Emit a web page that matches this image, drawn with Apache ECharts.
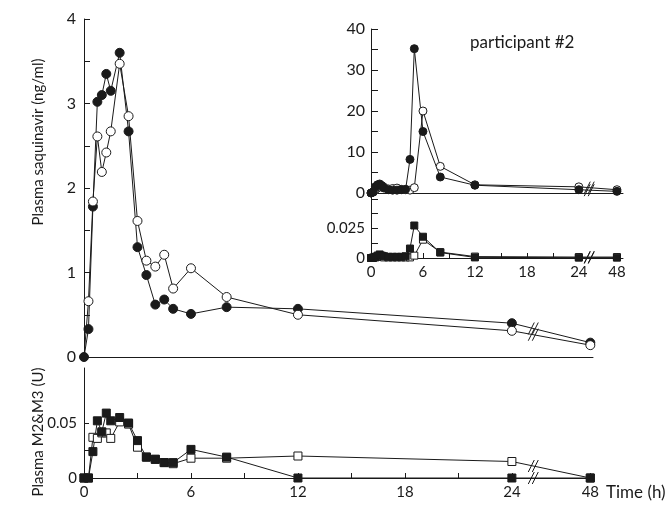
<!DOCTYPE html>
<html>
<head>
<meta charset="utf-8">
<script src="https://cdn.jsdelivr.net/npm/echarts@6/dist/echarts.min.js"></script>
<style>
html, body { margin: 0; padding: 0; background: #fff; }
#chart { width: 669px; height: 513px; }
</style>
</head>
<body>
<div id="chart"></div>
<script>
// sampling times (h)
var times = [0, 0.25, 0.5, 0.75, 1, 1.25, 1.5, 2, 2.5, 3, 3.5, 4, 4.5, 5, 6, 8, 12, 24, 48];

// plasma saquinavir (ng/ml), mean curves
var saqFilled = [0, 0.33, 1.78, 3.02, 3.1, 3.35, 3.15, 3.6, 2.67, 1.3, 0.97, 0.62, 0.68, 0.57, 0.51, 0.59, 0.57, 0.40, 0.17];
var saqOpen = [0, 0.66, 1.84, 2.61, 2.19, 2.42, 2.67, 3.47, 2.85, 1.61, 1.14, 1.07, 1.21, 0.81, 1.05, 0.71, 0.50, 0.31, 0.14];

// plasma M2&M3 (U)
var metFilled = [0, 0, 0.024, 0.052, 0.042, 0.059, 0.052, 0.055, 0.050, 0.034, 0.019, 0.017, 0.014, 0.014, 0.026, 0.019, 0, 0, 0];
var metOpen = [0, 0, 0.037, 0.036, 0.041, 0.041, 0.036, 0.051, 0.049, 0.028, 0.019, 0.017, 0.014, 0.013, 0.018, 0.018, 0.020, 0.015, 0];

// participant #2 (inset)
var p2SaqFilled = [0, 0.3, 1.5, 2.0, 2.2, 1.8, 1.2, 0.8, 0.7, 0.7, 0.8, 0.9, 8.2, 35.2, 15.0, 3.9, 1.9, 0.8, 0.4];
var p2SaqOpen = [0, 0.2, 0.8, 1.2, 1.5, 1.6, 1.4, 1.0, 1.1, 1.2, 0.9, 0.8, 0.7, 1.3, 20.0, 6.5, 2.0, 1.5, 0.8];
var p2MetFilled = [0, 0.0005, 0.001, 0.002, 0.003, 0.002, 0.0015, 0.001, 0.001, 0.001, 0.001, 0.0015, 0.008, 0.0275, 0.018, 0.0046, 0.0005, 0.0003, 0.0003];
var p2MetOpen = [0, 0, 0.0005, 0.001, 0.001, 0.001, 0.0005, 0.0005, 0.0005, 0.0005, 0.0005, 0.0005, 0.0005, 0.002, 0.0155, 0.005, 0.0012, 0.0008, 0.0008];

var xTickLabels = [0, 6, 12, 18, 24, 48];

// broken time axis: 24..48 h squeezed
function brk(t) { return t <= 24 ? t : 24 + (t - 24) * 4.4 / 24; }
function pairs(ts, vs, hideFirst) {
    var out = [];
    for (var i = 0; i < ts.length; i++) {
        var pt = [brk(ts[i]), vs[i]];
        // the first open symbol sits under the filled one in the original
        out.push(hideFirst && i === 0 ? { value: pt, symbol: 'none' } : pt);
    }
    return out;
}

var ink = '#1a1a1a';
var font = 'Lato';
var lbl = { color: ink, fontFamily: font, fontSize: 15 };

var labelVals = xTickLabels.map(brk);
var tickVals = [0, 3, 6, 9, 12, 15, 18, 21, 24, brk(48)];
function timeFmt(v) {
    for (var i = 0; i < labelVals.length; i++) {
        if (Math.abs(labelVals[i] - v) < 1e-6) return String(xTickLabels[i]);
    }
    return '';
}

function xAx(grid, max, withLabels) {
    return {
        gridIndex: grid, type: 'value', min: 0, max: max,
        axisLine: { show: true, lineStyle: { color: ink, width: 1 } },
        axisTick: withLabels ? { show: true, inside: true, length: 5, customValues: tickVals, lineStyle: { color: ink } } : { show: false },
        axisLabel: withLabels ? Object.assign({ show: true, margin: 7, customValues: labelVals, formatter: timeFmt }, lbl) : { show: false },
        splitLine: { show: false }
    };
}

function lineSeries(x, data, symbol, size, filled) {
    return {
        type: 'line', xAxisIndex: x, yAxisIndex: x, data: data,
        symbol: symbol, symbolSize: size, showSymbol: true,
        lineStyle: { color: ink, width: 1 },
        itemStyle: { color: filled ? ink : '#fff', borderColor: ink, borderWidth: 1 },
        emphasis: { disabled: true },
        animation: false
    };
}

var chart = echarts.init(document.getElementById('chart'));
chart.setOption({
    animation: false,
    grid: [
        { left: 84, top: 19, width: 509, height: 338 },
        { left: 84, top: 368, width: 509, height: 110 },
        { left: 371, top: 29, width: 252, height: 164 },
        { left: 371, top: 193, width: 252, height: 65 }
    ],
    xAxis: [
        xAx(0, 28.55, false),
        Object.assign(xAx(1, 28.55, true), {
            name: 'Time (h)', nameLocation: 'end', nameGap: 13,
            nameTextStyle: { color: ink, fontFamily: font, fontSize: 17, verticalAlign: 'top', padding: [6, 0, 0, 0] }
        }),
        xAx(2, 29.1, false),
        xAx(3, 29.1, true)
    ],
    yAxis: [
        {
            gridIndex: 0, type: 'value', min: 0, max: 4, interval: 0.5,
            axisLine: { show: true, lineStyle: { color: ink } },
            axisTick: { show: true, inside: true, length: 6, lineStyle: { color: ink } },
            axisLabel: Object.assign({ margin: 8, formatter: function (v) { return v % 1 === 0 ? String(v) : ''; } }, lbl, { fontSize: 16 }),
            splitLine: { show: false }
        },
        {
            gridIndex: 1, type: 'value', min: 0, max: 0.1,
            axisLine: { show: true, lineStyle: { color: ink } },
            axisTick: { show: true, inside: true, length: 5, customValues: [0, 0.025, 0.05], lineStyle: { color: ink } },
            axisLabel: Object.assign({ margin: 7, customValues: [0, 0.05] }, lbl),
            splitLine: { show: false }
        },
        {
            gridIndex: 2, type: 'value', min: 0, max: 40, interval: 5,
            axisLine: { show: true, lineStyle: { color: ink } },
            axisTick: { show: true, inside: true, length: 7, lineStyle: { color: ink } },
            axisLabel: Object.assign({ margin: 6, formatter: function (v) { return v % 10 === 0 ? String(v) : ''; } }, lbl, { fontSize: 16 }),
            splitLine: { show: false }
        },
        {
            gridIndex: 3, type: 'value', min: 0, max: 0.055,
            axisLine: { show: true, lineStyle: { color: ink } },
            axisTick: { show: true, inside: true, length: 7, customValues: [0, 0.0125, 0.025, 0.0375, 0.05], lineStyle: { color: ink } },
            axisLabel: Object.assign({ margin: 6, customValues: [0, 0.025] }, lbl),
            splitLine: { show: false }
        }
    ],
    series: [
        lineSeries(0, pairs(times, saqFilled), 'circle', 9, true),
        lineSeries(0, pairs(times, saqOpen, true), 'circle', 9, false),
        lineSeries(1, pairs(times, metOpen), 'rect', 8, false),
        lineSeries(1, pairs(times, metFilled), 'rect', 8, true),
        lineSeries(2, pairs(times, p2SaqOpen), 'circle', 8, false),
        lineSeries(2, pairs(times, p2SaqFilled), 'circle', 8, true),
        lineSeries(3, pairs(times, p2MetOpen), 'rect', 7, false),
        lineSeries(3, pairs(times, p2MetFilled), 'rect', 7, true)
    ]
});

// axis break marks "//" on each curve between 24 h and 48 h
var breaks = [];
var curves = [
    [0, saqFilled], [0, saqOpen], [1, metFilled], [1, metOpen],
    [2, p2SaqFilled], [2, p2SaqOpen], [3, p2MetFilled], [3, p2MetOpen]
];
var n = times.length;
curves.forEach(function (c) {
    var xb = 25.2;
    var a = chart.convertToPixel({ gridIndex: c[0] }, [brk(24), c[1][n - 2]]);
    var b = chart.convertToPixel({ gridIndex: c[0] }, [brk(48), c[1][n - 1]]);
    var p = chart.convertToPixel({ gridIndex: c[0] }, [xb, 0]);
    var f = (p[0] - a[0]) / (b[0] - a[0]);
    var y = a[1] + (b[1] - a[1]) * f;
    [-2, 2].forEach(function (d) {
        breaks.push({
            type: 'line', silent: true, z: 10,
            shape: { x1: p[0] + d - 3, y1: y + 6, x2: p[0] + d + 3, y2: y - 6 },
            style: { stroke: ink, lineWidth: 1 }
        });
    });
});

var texts = [
    { type: 'text', x: 38, y: 142, rotation: Math.PI / 2,
      style: { text: 'Plasma saquinavir (ng/ml)', fill: ink, fontFamily: font, fontSize: 15, align: 'center', verticalAlign: 'middle' } },
    { type: 'text', x: 38, y: 432, rotation: Math.PI / 2,
      style: { text: 'Plasma M2&M3 (U)', fill: ink, fontFamily: font, fontSize: 15, align: 'center', verticalAlign: 'middle' } },
    { type: 'text', x: 470, y: 43,
      style: { text: 'participant #2', fill: ink, fontFamily: font, fontSize: 17, align: 'left', verticalAlign: 'middle' } }
];

chart.setOption({ graphic: texts.concat(breaks) });
</script>
</body>
</html>
